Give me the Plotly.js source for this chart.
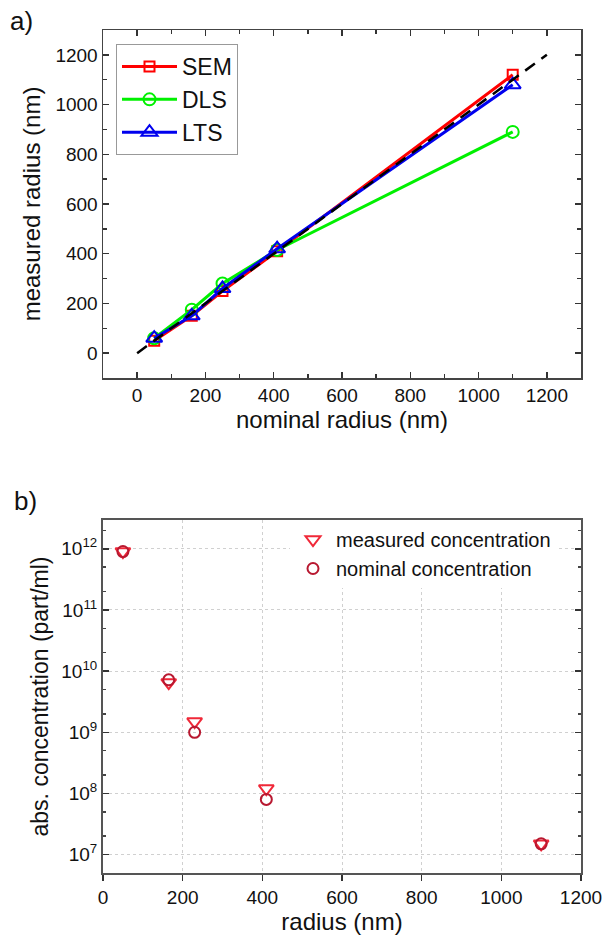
<!DOCTYPE html>
<html>
<head>
<meta charset="utf-8">
<script src="https://cdn.plot.ly/plotly-3.0.1.min.js"></script>
<style>html,body{margin:0;padding:0;background:#fff;}#chart{width:603px;height:940px;}</style>
</head>
<body>
<div id="chart"></div>
<script>
// ---- Panel a) data ----
const nominalRadius = [50, 160, 250, 410, 1100];
const semRadius = [50, 150, 250, 410, 1120];
const dlsRadius = [60, 175, 280, 415, 890];
const ltsRadius = [60, 150, 260, 420, 1080];
const refLineX = [0, 1200];
const refLineY = [0, 1200];
const seriesNamesA = ['SEM', 'DLS', 'LTS'];

// ---- Panel b) data ----
const concRadius = [50, 165, 230, 410, 1100];
const measuredConc = [9e11, 6.5e9, 1.5e9, 1.2e8, 1.5e7];
const nominalConc = [9e11, 7.2e9, 1.0e9, 8.0e7, 1.5e7];
const seriesNamesB = ['measured concentration', 'nominal concentration'];
const logTickVals = [1e7, 1e8, 1e9, 1e10, 1e11, 1e12];
const logTickText = ['10<sup>7</sup>', '10<sup>8</sup>', '10<sup>9</sup>', '10<sup>10</sup>', '10<sup>11</sup>', '10<sup>12</sup>'];

const FONT = 'Liberation Sans, Arial, sans-serif';

const traces = [
  {x: nominalRadius, y: semRadius, name: seriesNamesA[0], mode: 'lines+markers', xaxis: 'x', yaxis: 'y', legend: 'legend',
   line: {color: '#ff0000', width: 3}, marker: {symbol: 'square-open', size: 10, color: '#ff0000', line: {width: 2}}},
  {x: nominalRadius, y: dlsRadius, name: seriesNamesA[1], mode: 'lines+markers', xaxis: 'x', yaxis: 'y', legend: 'legend',
   line: {color: '#00f000', width: 3}, marker: {symbol: 'circle-open', size: 12, color: '#00f000', line: {width: 2}}},
  {x: nominalRadius, y: ltsRadius, name: seriesNamesA[2], mode: 'lines+markers', xaxis: 'x', yaxis: 'y', legend: 'legend',
   line: {color: '#0000ee', width: 3}, marker: {symbol: 'triangle-up-open', size: 14, color: '#0000ee', line: {width: 2}}},
  {x: refLineX, y: refLineY, mode: 'lines', xaxis: 'x', yaxis: 'y', showlegend: false,
   line: {color: '#000000', width: 2.5, dash: '12px,8px'}},
  {x: concRadius, y: measuredConc, name: seriesNamesB[0], mode: 'markers', xaxis: 'x2', yaxis: 'y2', legend: 'legend2',
   marker: {symbol: 'triangle-down-open', size: 13, color: '#f02838', line: {width: 2}}},
  {x: concRadius, y: nominalConc, name: seriesNamesB[1], mode: 'markers', xaxis: 'x2', yaxis: 'y2', legend: 'legend2',
   marker: {symbol: 'circle-open', size: 11, color: '#b81830', line: {width: 2}}}
];

const axisBase = {
  showline: true, linecolor: '#444', linewidth: 1.5, zeroline: false,
  tickfont: {family: FONT, size: 19, color: '#111'},
  ticklen: 6, tickwidth: 1.5, tickcolor: '#333',
  ticklabeloverflow: 'allow'
};

const layout = {
  width: 603, height: 940,
  margin: {l: 0, r: 0, t: 0, b: 0},
  paper_bgcolor: '#fff', plot_bgcolor: '#fff',
  font: {family: FONT, color: '#111'},
  xaxis: Object.assign({}, axisBase, {
    domain: [103/603, 581/603], anchor: 'y', range: [-100, 1300], dtick: 200, tick0: 0,
    ticks: 'inside', mirror: 'ticks', showgrid: false,
    minor: {ticks: 'inside', ticklen: 4, dtick: 100, tick0: 0, tickcolor: '#333'},
    title: {text: 'nominal radius (nm)', font: {family: FONT, size: 24, color: '#111'}, standoff: 6}
  }),
  yaxis: Object.assign({}, axisBase, {
    domain: [1 - 378/940, 1 - 30/940], anchor: 'x', range: [-100, 1300], dtick: 200, tick0: 0,
    ticks: 'inside', mirror: 'ticks', showgrid: false,
    minor: {ticks: 'inside', ticklen: 4, dtick: 100, tick0: 0, tickcolor: '#333'},
    title: {text: 'measured radius (nm)', font: {family: FONT, size: 24, color: '#111'}, standoff: 8}
  }),
  xaxis2: Object.assign({}, axisBase, {
    domain: [103/603, 581/603], anchor: 'y2', range: [0, 1200], dtick: 200, tick0: 0,
    ticks: 'outside', mirror: true, linecolor: '#555', linewidth: 2,
    showgrid: true, gridcolor: '#d0d0d0', griddash: 'dot', gridwidth: 1,
    title: {text: 'radius (nm)', font: {family: FONT, size: 24, color: '#111'}, standoff: 6}
  }),
  yaxis2: Object.assign({}, axisBase, {
    domain: [1 - 873/940, 1 - 520/940], anchor: 'x2', type: 'log', range: [6.7, 12.47],
    tickmode: 'array', tickvals: logTickVals, ticktext: logTickText,
    ticks: 'inside', mirror: 'ticks', linecolor: '#555', linewidth: 2,
    showgrid: true, gridcolor: '#d0d0d0', griddash: 'dot', gridwidth: 1,
    minor: {ticks: 'inside', ticklen: 3, tickcolor: '#444', showgrid: false},
    title: {text: 'abs. concentration (part/ml)', font: {family: FONT, size: 23, color: '#111'}, standoff: 6}
  }),
  legend: {
    x: 116/603, y: 1 - 44/940, xanchor: 'left', yanchor: 'top',
    bgcolor: '#fff', bordercolor: '#999', borderwidth: 1,
    font: {family: FONT, size: 23, color: '#111'}, itemwidth: 55, tracegroupgap: 0
  },
  legend2: {
    x: 290/603, y: 1 - 520/940, xanchor: 'left', yanchor: 'top',
    bgcolor: '#fff', borderwidth: 0,
    font: {family: FONT, size: 20, color: '#111'}, itemwidth: 36, tracegroupgap: 0
  },
  shapes: [
    {type: 'rect', xref: 'paper', yref: 'paper', layer: 'between',
     x0: 246/603, x1: 579/603, y0: 1 - 578/940, y1: 1 - 522/940,
     fillcolor: '#fff', line: {width: 0}}
  ],
  annotations: [
    {text: 'a)', xref: 'paper', yref: 'paper', x: 8/603, y: 1 - 4/940, xanchor: 'left', yanchor: 'top',
     showarrow: false, font: {family: FONT, size: 26, color: '#111'}},
    {text: 'b)', xref: 'paper', yref: 'paper', x: 12/603, y: 1 - 484/940, xanchor: 'left', yanchor: 'top',
     showarrow: false, font: {family: FONT, size: 26, color: '#111'}}
  ]
};

Plotly.newPlot('chart', traces, layout, {displayModeBar: false, staticPlot: true});
</script>
</body>
</html>
